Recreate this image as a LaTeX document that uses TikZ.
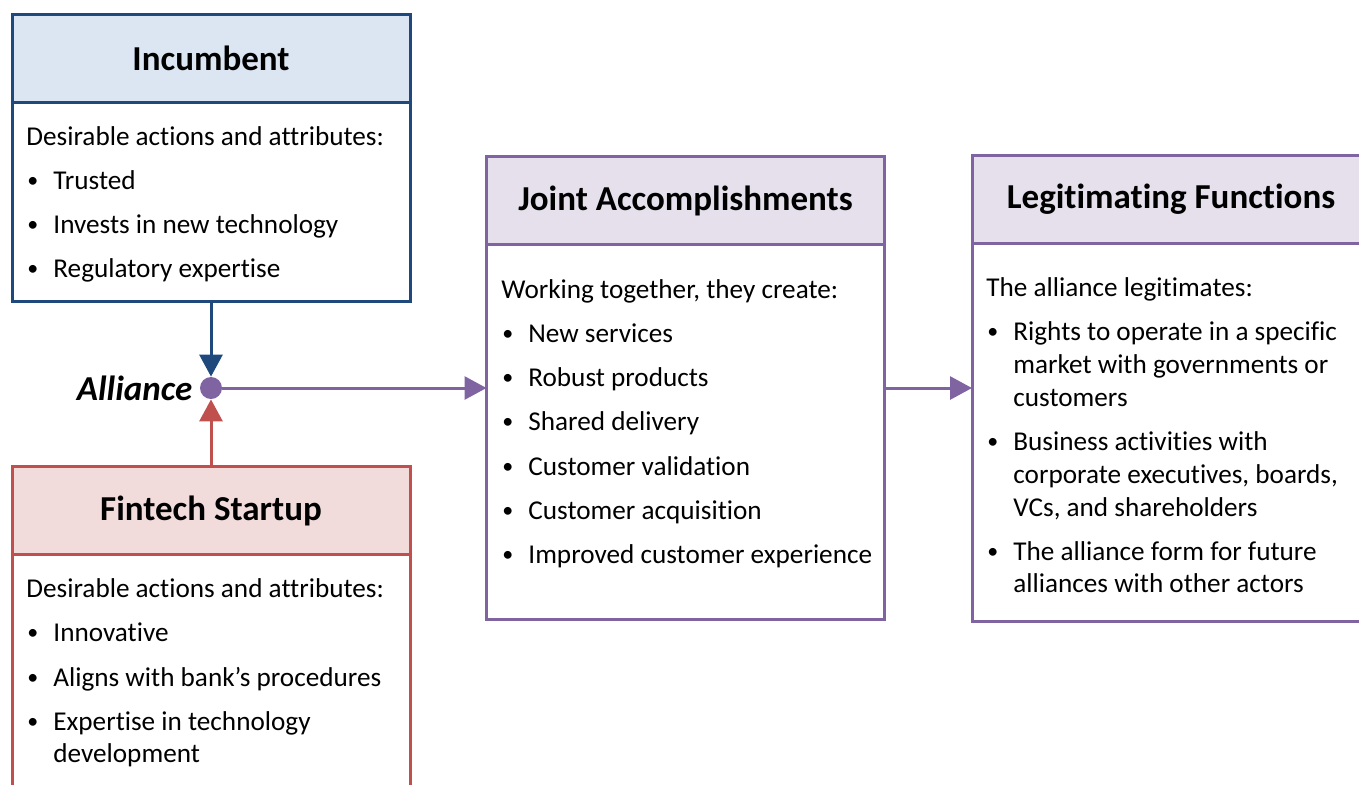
\documentclass[tikz,border=0pt]{standalone}
\usepackage{fontspec}
\setmainfont{Carlito}[Ligatures=NoCommon]
\usetikzlibrary{arrows.meta,positioning}
\definecolor{incblue}{RGB}{31,73,125}
\definecolor{incfill}{RGB}{220,230,242}
\definecolor{ftred}{RGB}{192,80,77}
\definecolor{ftfill}{RGB}{242,220,219}
\definecolor{allpurple}{RGB}{128,100,162}
\definecolor{allfill}{RGB}{229,224,236}
\newcommand{\bul}{\makebox[13.5pt][l]{\hspace{0.5pt}\raisebox{0.6pt}{\fontsize{11}{11}\selectfont\textbullet}}}
\newcommand{\ind}{\hspace*{13.5pt}}
\tikzset{
    boxhead/.style 2 args={draw=#1, fill=#2, line width=1.5pt,
            minimum width=199pt, minimum height=44pt,
            inner sep=0pt, outer sep=0pt,
            font=\fontsize{17.5}{21}\selectfont\bfseries},
    boxbody/.style={draw=#1, fill=white, line width=1.5pt,
            minimum width=199pt, inner sep=0pt, outer sep=0pt},
    entry/.style={anchor=base west, inner sep=0pt,
            font=\fontsize{13.6}{16}\selectfont},
    link/.style={draw=#1, line width=1.5pt, -{Triangle[length=11pt,width=11.5pt]}},
}

\begin{document}
\begin{tikzpicture}[x=0.5pt,y=-0.5pt]
\useasboundingbox (0,0) rectangle (1359,784);
\clip (0,0) rectangle (1359,784);
% incumbent
\node[boxhead={incblue}{incfill}] (inchead) at (211,58) {Incumbent};
\node[boxbody=incblue, minimum height=99.5pt, below=0pt of inchead] (incbody) {};
\foreach \y/\t [count=\i] in {145/{Desirable actions and attributes:},189/{\bul Trusted},
    233/{\bul Invests in new technology},277/{\bul Regulatory expertise}}
    \node[entry] (inc\i) at (26,\y) {\t};
% fintech startup
\node[boxhead={ftred}{ftfill}] (fthead) at (211,510.5) {Fintech Startup};
\node[boxbody=ftred, minimum height=150pt, below=0pt of fthead] (ftbody) {};
\foreach \y/\t [count=\i] in {597/{Desirable actions and attributes:},641/{\bul Innovative},
    686/{\bul Aligns with bank’s procedures},730/{\bul Expertise in technology},762/{\ind development}}
    \node[entry] (ft\i) at (26,\y) {\t};
% joint accomplishments
\node[boxhead={allpurple}{allfill}] (jointhead) at (685.5,200.5) {Joint Accomplishments};
\node[boxbody=allpurple, minimum height=187.5pt, below=0pt of jointhead] (jointbody) {};
\foreach \y/\t [count=\i] in {298/{Working together, they create:},342/{\bul New services},
    386/{\bul Robust products},430/{\bul Shared delivery},475/{\bul Customer validation},
    519/{\bul Customer acquisition},563/{\bul Improved customer experience}}
    \node[entry] (joint\i) at (501,\y) {\t};
% legitimating functions
\node[boxhead={allpurple}{allfill}] (legithead) at (1171,199) {Legitimating Functions};
\node[boxbody=allpurple, minimum height=189pt, below=0pt of legithead] (legitbody) {};
\foreach \y/\t [count=\i] in {296/{The alliance legitimates:},340/{\bul Rights to operate in a specific},
    373/{\ind market with governments or},406/{\ind customers},450/{\bul Business activities with},
    483/{\ind corporate executives, boards,},516/{\ind VCs, and shareholders},
    560/{\bul The alliance form for future},592/{\ind alliances with other actors}}
    \node[entry] (legit\i) at (986,\y) {\t};
% alliance
\node[circle, fill=allpurple, minimum size=11pt, inner sep=0pt] (dot) at (211,388) {};
\node[left=3.5pt of dot, inner sep=0pt, font=\fontsize{17.5}{21}\selectfont\bfseries\itshape] (alliance) {Alliance};
\draw[link=incblue] (incbody.south) -- (dot.north);
\draw[link=ftred] (fthead.north) -- (dot.south);
\draw[link=allpurple] (dot.east) -- (jointbody.west |- dot);
\draw[link=allpurple] (jointbody.east |- dot) -- (legitbody.west |- dot);
\end{tikzpicture}
\end{document}
